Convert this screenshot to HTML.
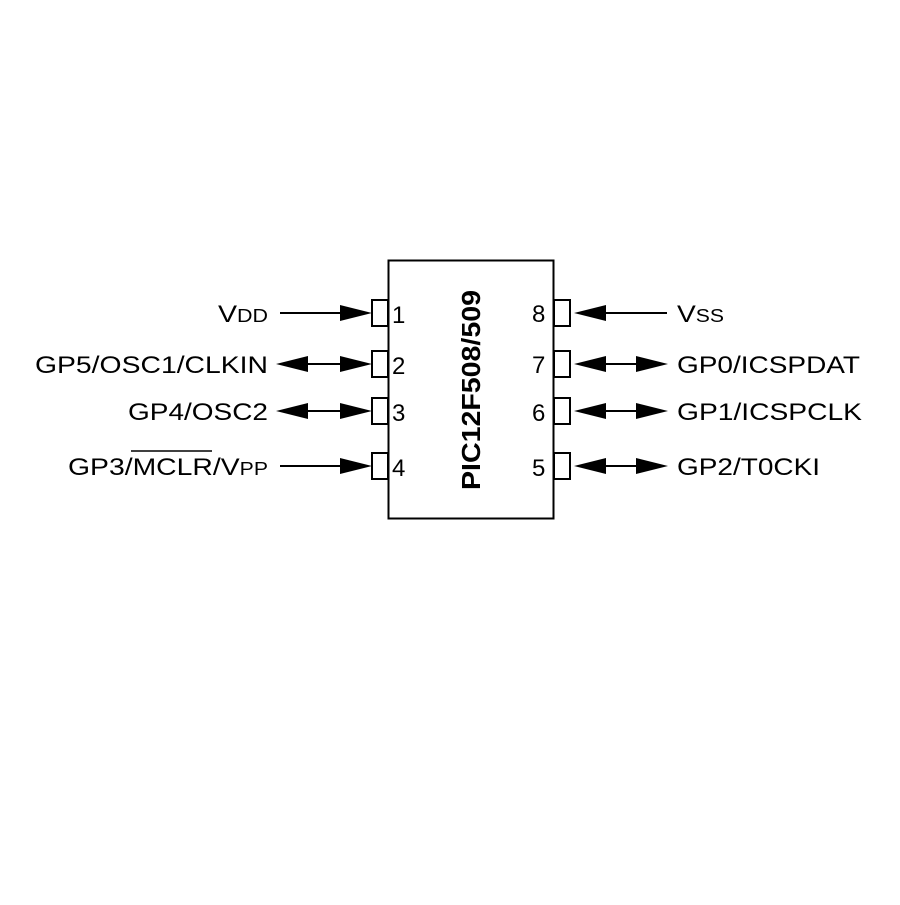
<!DOCTYPE html>
<html><head><style>body{margin:0;background:#fff}</style></head><body>
<svg width="900" height="900" xmlns="http://www.w3.org/2000/svg" font-family="Liberation Sans, sans-serif" font-size="24">
<rect x="388.5" y="260.5" width="165" height="258" fill="none" stroke="#000" stroke-width="2"/>
<g fill="#fff" stroke="#000" stroke-width="2">
<rect x="372" y="300" width="16" height="26"/><rect x="372" y="351" width="16" height="26"/>
<rect x="372" y="398" width="16" height="26"/><rect x="372" y="453" width="16" height="26"/>
<rect x="554" y="300" width="16" height="26"/><rect x="554" y="351" width="16" height="26"/>
<rect x="554" y="398" width="16" height="26"/><rect x="554" y="453" width="16" height="26"/>
</g>
<g stroke="#000" stroke-width="2">
<line x1="280" y1="313" x2="350" y2="313"/><line x1="300" y1="364" x2="350" y2="364"/>
<line x1="300" y1="411" x2="350" y2="411"/><line x1="280" y1="466" x2="350" y2="466"/>
<line x1="600" y1="313" x2="667" y2="313"/><line x1="600" y1="364" x2="640" y2="364"/>
<line x1="600" y1="411" x2="640" y2="411"/><line x1="600" y1="466" x2="640" y2="466"/>
</g>
<g fill="#000">
<polygon points="372,313 340,305 340,321"/>
<polygon points="372,364 340,356 340,372"/><polygon points="276,364 308,356 308,372"/>
<polygon points="372,411 340,403 340,419"/><polygon points="276,411 308,403 308,419"/>
<polygon points="372,466 340,458 340,474"/>
<polygon points="574,313 606,305 606,321"/>
<polygon points="574,364 606,356 606,372"/><polygon points="668,364 636,356 636,372"/>
<polygon points="574,411 606,403 606,419"/><polygon points="668,411 636,403 636,419"/>
<polygon points="574,466 606,458 606,474"/><polygon points="668,466 636,458 636,474"/>
</g>
<text x="218" y="322" textLength="50" lengthAdjust="spacingAndGlyphs">V<tspan font-size="18">DD</tspan></text>
<text x="35" y="373" textLength="233" lengthAdjust="spacingAndGlyphs">GP5/OSC1/CLKIN</text>
<text x="128" y="420" textLength="140" lengthAdjust="spacingAndGlyphs">GP4/OSC2</text>
<text x="68" y="475" textLength="200" lengthAdjust="spacingAndGlyphs">GP3/MCLR/V<tspan font-size="18">PP</tspan></text>
<line x1="131" y1="451" x2="212" y2="451" stroke="#000" stroke-width="1.5"/>
<text x="677" y="322" textLength="47" lengthAdjust="spacingAndGlyphs">V<tspan font-size="18">SS</tspan></text>
<text x="677" y="373" textLength="183" lengthAdjust="spacingAndGlyphs">GP0/ICSPDAT</text>
<text x="677" y="420" textLength="185" lengthAdjust="spacingAndGlyphs">GP1/ICSPCLK</text>
<text x="677" y="475" textLength="143" lengthAdjust="spacingAndGlyphs">GP2/T0CKI</text>
<text x="392" y="323">1</text><text x="392" y="374">2</text><text x="392" y="421">3</text><text x="392" y="476">4</text>
<text x="532" y="322">8</text><text x="532" y="373">7</text><text x="532" y="421">6</text><text x="532" y="476">5</text>
<text transform="translate(480,390) rotate(-90)" text-anchor="middle" font-weight="bold" font-size="26" textLength="200" lengthAdjust="spacingAndGlyphs">PIC12F508/509</text>
</svg>
</body></html>
